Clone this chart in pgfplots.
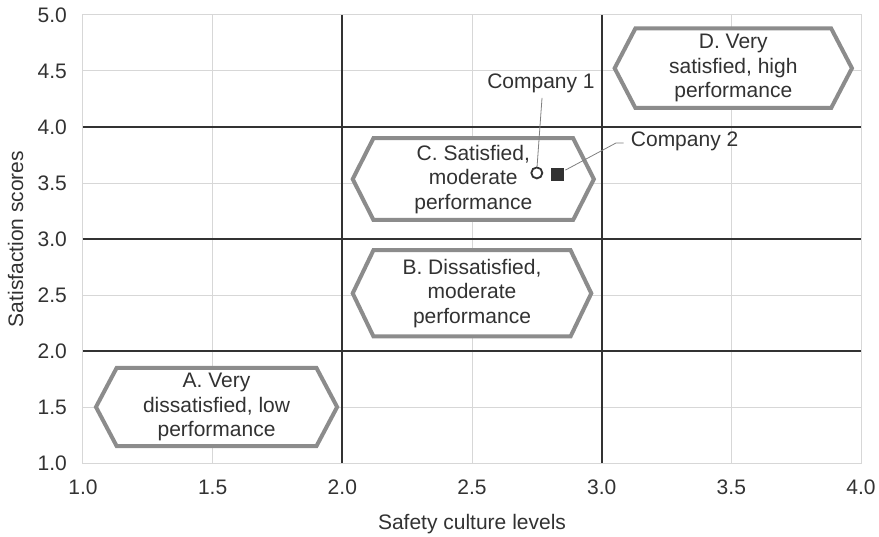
\documentclass[border=0pt]{standalone}
\usepackage{pgfplots}
\pgfplotsset{compat=1.18}
\usepackage{fontspec}
\setmainfont{Liberation Sans}
\usetikzlibrary{calc}
\definecolor{txt}{RGB}{50,50,50}
\definecolor{hexc}{RGB}{140,140,140}
\definecolor{quad}{RGB}{50,50,50}
\definecolor{lgrid}{RGB}{215,215,215}

\begin{document}
\begin{tikzpicture}
\fontsize{21}{25}\selectfont
\begin{axis}[
    scale only axis,
    width=778pt, height=448pt,
    xmin=1, xmax=4, ymin=1, ymax=5,
    xtick={1,1.5,...,4}, ytick={1,1.5,...,5},
    /pgf/number format/fixed,
    /pgf/number format/fixed zerofill,
    /pgf/number format/precision=1,
    /pgf/number format/assume math mode=true,
    tick label style={font=\fontsize{21}{25}\selectfont, text=txt},
    x tick label style={yshift=-10pt},
    y tick label style={xshift=-9pt},
    label style={font=\fontsize{21}{25}\selectfont, text=txt},
    xlabel={Safety culture levels},
    ylabel={Satisfaction scores},
    xlabel style={yshift=-5pt},
    ylabel style={yshift=0pt},
    grid=major,
    major grid style={line width=1pt, draw=lgrid},
    axis line style={line width=1pt, draw=lgrid},
    major tick length=0pt,
    clip=false,
]
% quadrant lines
\draw[quad, line width=1.7pt] (axis cs:2,1) -- (axis cs:2,5);
\draw[quad, line width=1.7pt] (axis cs:3,1) -- (axis cs:3,5);
\draw[quad, line width=1.7pt] (axis cs:1,2) -- (axis cs:4,2);
\draw[quad, line width=1.7pt] (axis cs:1,3) -- (axis cs:4,3);
\draw[quad, line width=1.7pt] (axis cs:1,4) -- (axis cs:4,4);

% hexagon labels
\newcommand{\hexa}[5]{%
  \draw[hexc, line width=4pt, fill=white, line join=miter]
    (axis cs:#1,{(#3+#4)/2}) -- (axis cs:#1+0.08,#4) -- (axis cs:#2-0.08,#4)
    -- (axis cs:#2,{(#3+#4)/2}) -- (axis cs:#2-0.08,#3) -- (axis cs:#1+0.08,#3) -- cycle;
  \node[text=txt, align=center, font=\fontsize{21}{24.5}\selectfont]
    at (axis cs:{(#1+#2)/2},{(#3+#4)/2}) {#5};}
\hexa{1.05}{1.98}{1.15}{1.85}{A. Very\\dissatisfied, low\\performance}
\hexa{2.04}{2.96}{2.13}{2.90}{B. Dissatisfied,\\moderate\\performance}
\hexa{2.04}{2.97}{3.17}{3.90}{C. Satisfied,\\moderate\\performance}
\hexa{3.05}{3.965}{4.17}{4.88}{D. Very\\satisfied, high\\performance}

% callouts
\draw[gray, line width=0.8pt] (axis cs:2.751,3.65) -- (axis cs:2.77,4.26);
\node[text=txt] at (axis cs:2.766,4.39) {Company 1};
\draw[gray, line width=0.8pt] (axis cs:2.86,3.615) -- (axis cs:3.055,3.857) -- (axis cs:3.085,3.857);
\node[text=txt, anchor=west] at (axis cs:3.085,3.87) {Company 2};

\addplot[only marks, mark=o, mark size=5.5pt, draw=quad, fill=white, line width=1.8pt]
  coordinates {(2.75,3.59)};
\addplot[only marks, mark=square*, mark size=6pt, draw=quad, fill=quad]
  coordinates {(2.83,3.58)};
\end{axis}
\pgfresetboundingbox
\path[use as bounding box] ($(current axis.south west)+(-83pt,-73pt)$) rectangle ($(current axis.north east)+(18pt,15pt)$);
\end{tikzpicture}
\end{document}
